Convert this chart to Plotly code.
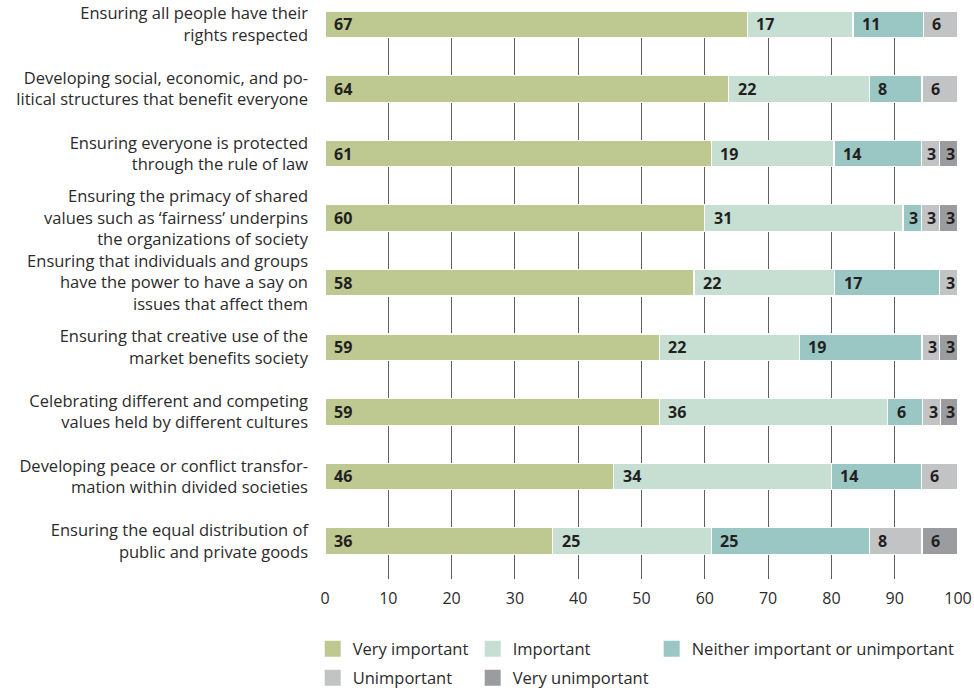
import plotly.graph_objects as go

categories = [
    "Ensuring all people have their<br>rights respected",
    "Developing social, economic, and po-<br>litical structures that benefit everyone",
    "Ensuring everyone is protected<br>through the rule of law",
    "Ensuring the primacy of shared<br>values such as ‘fairness’ underpins<br>the organizations of society",
    "Ensuring that individuals and groups<br>have the power to have a say on<br>issues that affect them",
    "Ensuring that creative use of the<br>market benefits society",
    "Celebrating different and competing<br>values held by different cultures",
    "Developing peace or conflict transfor-<br>mation within divided societies",
    "Ensuring the equal distribution of<br>public and private goods",
]

series_names = ["Very important", "Important", "Neither important or unimportant",
                "Unimportant", "Very unimportant"]
series_colors = ["#bec992", "#c7dfd3", "#9ac6c3", "#c2c3c5", "#9b9ca0"]

# bar segment lengths as drawn
very_important = [66.7, 63.8, 61.0, 60.0, 58.3, 52.8, 52.8, 45.6, 36.0]
important = [16.7, 22.2, 19.4, 31.3, 22.2, 22.1, 36.1, 34.4, 25.0]
neither = [11.1, 8.3, 13.8, 2.9, 16.6, 19.4, 5.5, 14.2, 25.0]
unimportant = [5.5, 5.7, 2.9, 2.9, 2.9, 2.8, 2.8, 5.8, 8.3]
very_unimportant = [0, 0, 2.9, 2.9, 0, 2.9, 2.8, 0, 5.7]

# printed labels
label_very_important = [67, 64, 61, 60, 58, 59, 59, 46, 36]
label_important = [17, 22, 19, 31, 22, 22, 36, 34, 25]
label_neither = [11, 8, 14, 3, 17, 19, 6, 14, 25]
label_unimportant = [6, 6, 3, 3, 3, 3, 3, 6, 8]
label_very_unimportant = [None, None, 3, 3, None, 3, 3, None, 6]

x_ticks = [0, 10, 20, 30, 40, 50, 60, 70, 80, 90, 100]

series_values = [very_important, important, neither, unimportant, very_unimportant]
series_labels = [label_very_important, label_important, label_neither,
                 label_unimportant, label_very_unimportant]

FONT = "Open Sans"
TXT = "#2b2b2b"

fig = go.Figure()

for name, color, vals in zip(series_names, series_colors, series_values):
    fig.add_trace(go.Bar(
        x=vals, y=categories, orientation="h", name=name,
        marker=dict(color=color, line=dict(color="white", width=1.2)),
        width=0.41, showlegend=False, hoverinfo="x+y+name",
    ))

# legend entries (one legend per entry to reproduce the two-row grid)
legend_ids = ["legend", "legend2", "legend3", "legend4", "legend5"]
for name, color, lid in zip(series_names, series_colors, legend_ids):
    fig.add_trace(go.Bar(
        x=[None], y=[None], orientation="h", name=name, legend=lid,
        marker=dict(color=color, line=dict(color=color, width=4)),
        showlegend=True,
    ))

# segment labels
annotations = []
for r, cat in enumerate(categories):
    left = 0.0
    for vals, labs in zip(series_values, series_labels):
        w = vals[r]
        lab = labs[r]
        if w > 0 and lab is not None:
            annotations.append(dict(
                x=left, y=cat, xref="x", yref="y", text="<b>%d</b>" % lab,
                showarrow=False, xanchor="left", yanchor="middle",
                xshift=4 if w < 4 else 7,
                font=dict(family=FONT, size=16, color="#231f20"),
            ))
        left += w

PLOT_L, PLOT_R, PLOT_T, PLOT_B = 325.3, 958.3, 11, 579
W, H = 974, 690
plot_w = PLOT_R - PLOT_L
plot_h = PLOT_B - PLOT_T

def lx(px):
    return (px - PLOT_L) / plot_w

def ly(py):
    return (PLOT_B - py) / plot_h

col_px = [325, 485, 664, 325, 485]
row_py = [649, 649, 649, 678, 678]
legend_common = dict(orientation="h", xanchor="left", yanchor="middle",
                     bgcolor="rgba(0,0,0,0)", borderwidth=0,
                     font=dict(family=FONT, size=16.5, color=TXT),
                     itemclick=False, itemdoubleclick=False)
layout_legends = {}
for lid, cx, ry in zip(legend_ids, col_px, row_py):
    layout_legends[lid] = dict(x=lx(cx - 12), y=ly(ry), **legend_common)

fig.update_layout(
    barmode="stack",
    width=W, height=H,
    margin=dict(l=PLOT_L, r=W - PLOT_R, t=PLOT_T, b=H - PLOT_B, pad=0,
                autoexpand=False),
    paper_bgcolor="white", plot_bgcolor="white",
    font=dict(family=FONT, size=16, color=TXT),
    annotations=annotations,
    xaxis=dict(range=[0, 100], tickvals=x_ticks, ticktext=[str(t) for t in x_ticks],
               showgrid=True, gridcolor="#5f5f5f", gridwidth=1, zeroline=False,
               showline=False, ticks="", ticklabelstandoff=8, automargin=False,
               tickfont=dict(family=FONT, size=16, color=TXT), fixedrange=True),
    yaxis=dict(type="category", categoryorder="array", categoryarray=categories,
               range=[8.587, -0.206], showgrid=False, zeroline=False,
               showline=False, ticks="", ticklabelstandoff=16, automargin=False,
               tickfont=dict(family=FONT, size=16.5, color=TXT), fixedrange=True),
    **layout_legends,
)

fig.write_html(
    "out.html",
    config={"displayModeBar": False},
    post_script="document.body.style.margin='0';document.body.style.padding='0';"
                "document.body.style.overflow='hidden';",
)
